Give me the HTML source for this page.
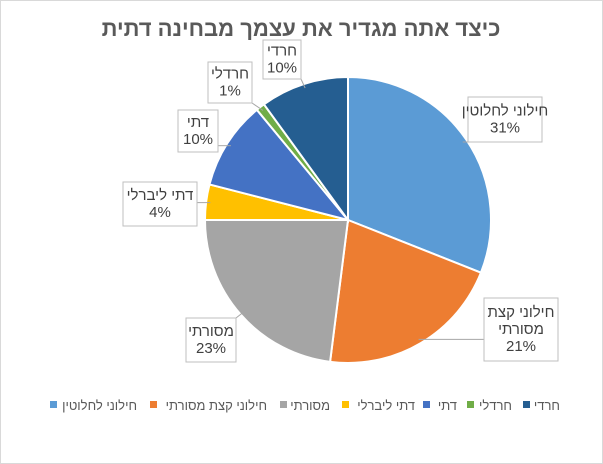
<!DOCTYPE html>
<html><head><meta charset="utf-8">
<style>
body{margin:0;background:#fff;}
svg{display:block;font-family:"Liberation Sans","Noto Sans CJK SC",sans-serif;}
</style></head>
<body>
<svg id="chart" width="603" height="464" viewBox="0 0 603 464">
<rect x="0.5" y="0.5" width="602" height="463" fill="#fff" stroke="#d9d9d9"/>
<text x="301" y="36" text-anchor="middle" font-size="22" font-weight="bold" fill="#595959">כיצד אתה מגדיר את עצמך מבחינה דתית</text>
<g id="slices"></g>
<g id="labels"></g>
<g id="legend"></g>
</svg>
<script>
const categories = ["חילוני לחלוטין","חילוני קצת מסורתי","מסורתי","דתי ליברלי","דתי","חרדלי","חרדי"];
const labelLines = [["חילוני לחלוטין"],["חילוני קצת","מסורתי"],["מסורתי"],["דתי ליברלי"],["דתי"],["חרדלי"],["חרדי"]];
const values = [31,21,23,4,10,1,10];
const pctLabels = ["31%","21%","23%","4%","10%","1%","10%"];
const colors = ["#5B9BD5","#ED7D31","#A5A5A5","#FFC000","#4472C4","#70AD47","#255E91"];

const NS="http://www.w3.org/2000/svg";
const cx=348, cy=220, r=143;
const total=values.reduce((a,b)=>a+b,0);
const gS=document.getElementById('slices'), gL=document.getElementById('labels'), gG=document.getElementById('legend');
function pt(a,rr){return [cx+rr*Math.sin(a), cy-rr*Math.cos(a)];}
const boxes=[[468,97,74,45],[484,298,74,63],[186,318,50,44],[123,182,74,44],[178,110,40,42],[208,62,44,41],[263,40,38,39]];
let acc=0;
values.forEach((v,i)=>{
  const a0=acc/total*2*Math.PI; acc+=v; const a1=acc/total*2*Math.PI;
  const p0=pt(a0,r), p1=pt(a1,r);
  const large=(a1-a0)>Math.PI?1:0;
  const p=document.createElementNS(NS,'path');
  p.setAttribute('d',`M${cx},${cy} L${p0[0]},${p0[1]} A${r},${r} 0 ${large} 1 ${p1[0]},${p1[1]} Z`);
  p.setAttribute('fill',colors[i]); p.setAttribute('stroke','#fff'); p.setAttribute('stroke-width','2');
  
  
  gS.appendChild(p);
  const b=boxes[i], am=(a0+a1)/2, pe=pt(am,r*0.97);
  const bx=Math.max(b[0],Math.min(b[0]+b[2],pe[0])), by=Math.max(b[1],Math.min(b[1]+b[3],pe[1]));
  const ln=document.createElementNS(NS,'line');
  ln.setAttribute('x1',pe[0]);ln.setAttribute('y1',pe[1]);ln.setAttribute('x2',bx);ln.setAttribute('y2',by);
  ln.setAttribute('stroke','#a6a6a6');
  
  
  gL.appendChild(ln);
  const rc=document.createElementNS(NS,'rect');
  rc.setAttribute('x',b[0]);rc.setAttribute('y',b[1]);rc.setAttribute('width',b[2]);rc.setAttribute('height',b[3]);
  rc.setAttribute('fill','#fff');rc.setAttribute('stroke','#bfbfbf');
  
  
  gL.appendChild(rc);
  const lines=labelLines[i].concat([pctLabels[i]]);
  const lh=17, startY=b[1]+b[3]/2-(lines.length*lh)/2+13;
  lines.forEach((t,k)=>{
    const tx=document.createElementNS(NS,'text');
    tx.setAttribute('x',b[0]+b[2]/2);tx.setAttribute('y',startY+k*lh);
    tx.setAttribute('text-anchor','middle');tx.setAttribute('font-size','15');tx.setAttribute('fill','#404040');
    
    
    tx.textContent=t; gL.appendChild(tx);
  });
});
const legSq=[50,150,280,342,423,467,523];
const legTxtEnd=[137,267,330,415,457,512,560];
categories.forEach((c,i)=>{
  const s=document.createElementNS(NS,'rect');
  s.setAttribute('x',legSq[i]);s.setAttribute('y',401);s.setAttribute('width',7);s.setAttribute('height',7);
  s.setAttribute('fill',colors[i]);
  
  
  gG.appendChild(s);
  const t=document.createElementNS(NS,'text');
  t.setAttribute('x',legTxtEnd[i]);t.setAttribute('y',410);t.setAttribute('text-anchor','end');
  t.setAttribute('font-size','13');t.setAttribute('fill','#595959');
  
  
  t.textContent=c; gG.appendChild(t);
});
</script>
</body></html>
